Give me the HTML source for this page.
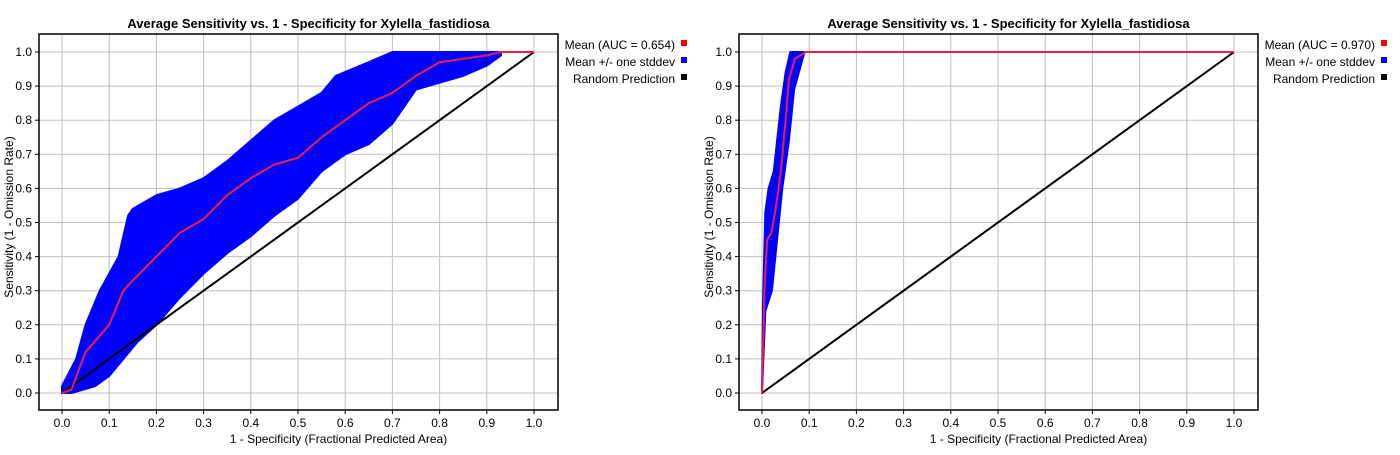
<!DOCTYPE html>
<html><head><meta charset="utf-8"><style>
body{margin:0;background:#fff;font-family:"Liberation Sans",Arial,sans-serif}
svg text{font-family:"Liberation Sans",Arial,sans-serif}
</style></head><body>
<svg id="s" width="1400" height="450"></svg>
<script>
const xTicks=[0,0.1,0.2,0.3,0.4,0.5,0.6,0.7,0.8,0.9,1.0];
const yTicks=[0,0.1,0.2,0.3,0.4,0.5,0.6,0.7,0.8,0.9,1.0];
const leftMeanX=[0,0.02,0.05,0.1,0.13,0.15,0.2,0.25,0.3,0.35,0.4,0.45,0.5,0.55,0.6,0.65,0.7,0.75,0.8,0.85,0.9,0.93,1];
const leftMeanY=[0,0.01,0.12,0.2,0.3,0.33,0.4,0.47,0.51,0.58,0.63,0.67,0.69,0.75,0.8,0.85,0.88,0.93,0.97,0.98,0.99,1,1];
const leftUpX=[0,0.03,0.05,0.08,0.12,0.14,0.15,0.2,0.25,0.3,0.35,0.4,0.45,0.5,0.55,0.58,0.65,0.7,0.93];
const leftUpY=[0.02,0.1,0.2,0.3,0.4,0.52,0.54,0.58,0.6,0.63,0.68,0.74,0.8,0.84,0.88,0.93,0.97,1,1];
const leftLoX=[0,0.02,0.07,0.1,0.13,0.16,0.2,0.25,0.3,0.35,0.4,0.45,0.5,0.55,0.6,0.65,0.7,0.75,0.8,0.85,0.9,0.93];
const leftLoY=[0,0,0.02,0.05,0.1,0.15,0.2,0.28,0.35,0.41,0.46,0.52,0.57,0.65,0.7,0.73,0.79,0.89,0.91,0.93,0.96,0.99];
const rightMeanX=[0,0.005,0.011,0.02,0.03,0.04,0.05,0.057,0.07,0.093,1];
const rightMeanY=[0,0.3,0.45,0.47,0.55,0.65,0.8,0.92,0.98,1,1];
const rightUpX=[0,0.002,0.007,0.014,0.025,0.032,0.04,0.05,0.06,0.09];
const rightUpY=[0,0.25,0.53,0.6,0.65,0.74,0.84,0.94,1,1];
const rightLoX=[0,0.007,0.021,0.032,0.043,0.057,0.068,0.09];
const rightLoY=[0,0.24,0.3,0.45,0.6,0.74,0.89,1];
const aucLabels=["Mean (AUC = 0.654)","Mean (AUC = 0.970)"];
const NS="http://www.w3.org/2000/svg";
const svg=document.getElementById('s');
function mk(t,a,p){const e=document.createElementNS(NS,t);for(const k in a)e.setAttribute(k,a[k]);(p||svg).appendChild(e);return e;}
function chart(ox,mx,my,ux,uy,lx,ly,auc,id){
 const g=mk('g',{});
 
 
 const X=v=>ox+23+472*v, Y=v=>393-341*v;
 const L=ox, R=ox+519, T=34, B=410;
 xTicks.forEach(t=>{const l=mk('line',{x1:X(t),x2:X(t),y1:T,y2:B,stroke:'#c0c0c0'},g);});
 yTicks.forEach(t=>{const l=mk('line',{x1:L,x2:R,y1:Y(t),y2:Y(t),stroke:'#c0c0c0'},g);});
 let d='M'+ux.map((x,i)=>X(x)+','+Y(uy[i])).join('L');
 for(let i=lx.length-1;i>=0;i--)d+='L'+X(lx[i])+','+Y(ly[i]);
 const band=mk('path',{d:d+'Z',fill:'#0000ff',stroke:'#0000ff','stroke-width':2,'stroke-linejoin':'round'},g);
 
 
 const rnd=mk('line',{x1:X(0),y1:Y(0),x2:X(1),y2:Y(1),stroke:'#000','stroke-width':2},g);
 
 
 const mean=mk('polyline',{points:mx.map((x,i)=>X(x)+','+Y(my[i])).join(' '),fill:'none',stroke:'#e8204a','stroke-width':2},g);
 
 
 const box=mk('rect',{x:L,y:T,width:R-L,height:B-T,fill:'none',stroke:'#000','stroke-width':1.5},g);
 
 
 xTicks.forEach(t=>{mk('line',{x1:X(t),x2:X(t),y1:B,y2:B+4,stroke:'#000'},g);const tx=mk('text',{x:X(t),y:427,'font-size':12,'text-anchor':'middle'},g);tx.textContent=t.toFixed(1);});
 yTicks.forEach(t=>{mk('line',{x1:L-4,x2:L,y1:Y(t),y2:Y(t),stroke:'#000'},g);const tx=mk('text',{x:L-7,y:Y(t)+4,'font-size':12,'text-anchor':'end'},g);tx.textContent=t.toFixed(1);});
 const tt=mk('text',{x:(L+R)/2+10,y:28,'font-size':13,'font-weight':'bold','text-anchor':'middle'},g);tt.textContent='Average Sensitivity vs. 1 - Specificity for Xylella_fastidiosa';
 
 const xt=mk('text',{x:(L+R)/2+40,y:443,'font-size':12,'text-anchor':'middle'},g);xt.textContent='1 - Specificity (Fractional Predicted Area)';
 
 const yt=mk('text',{x:0,y:0,'font-size':12,'text-anchor':'middle',transform:`translate(${ox-26},${(T+B)/2-5}) rotate(-90)`},g);yt.textContent='Sensitivity (1 - Omission Rate)';
 
 const leg=[[auc,'#ff0000'],['Mean +/- one stddev','#0000ff'],['Random Prediction','#000']];
 leg.forEach((e,i)=>{const y=49+i*17;const tx=mk('text',{x:ox+636,y:y,'font-size':12,'text-anchor':'end'},g);tx.textContent=e[0];mk('rect',{x:ox+642,y:y-9,width:6,height:6,fill:e[1]},g);});
}
chart(39,leftMeanX,leftMeanY,leftUpX,leftUpY,leftLoX,leftLoY,aucLabels[0],'left-roc-chart');
chart(739,rightMeanX,rightMeanY,rightUpX,rightUpY,rightLoX,rightLoY,aucLabels[1],'right-roc-chart');
</script>
</body></html>
